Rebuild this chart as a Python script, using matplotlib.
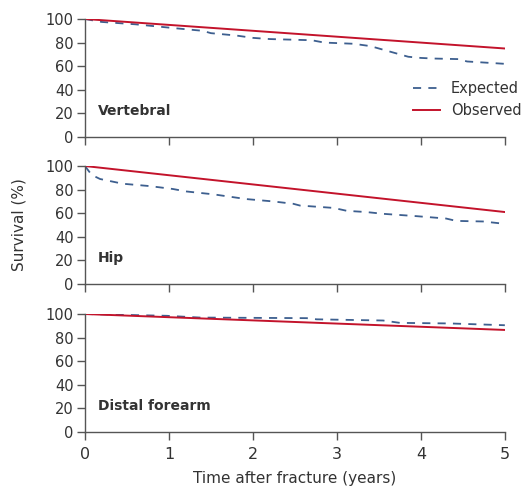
import numpy as np
import matplotlib.pyplot as plt

panels = ["Vertebral", "Hip", "Distal forearm"]

vert_t = [0, 0.2, 0.6, 1.1, 1.4, 1.5, 1.8, 2.0, 2.2, 2.7, 2.85, 3.2, 3.4, 3.55, 3.7, 3.85, 4.0, 4.15, 4.45, 4.55, 5.0]
vert_exp = [100, 97.5, 95.5, 92, 90, 88, 86, 84, 83, 82, 80, 79, 77, 74, 71, 68, 67, 66.5, 66, 64, 62]
vert_obs = [100, 75]

hip_t = [0, 0.08, 0.18, 0.45, 0.77, 1.05, 1.2, 1.53, 1.92, 2.24, 2.48, 2.56, 2.96, 3.12, 3.35, 3.55, 3.95, 4.3, 4.42, 4.74, 5.0]
hip_exp = [100, 92.5, 89, 85, 83, 80.5, 78.5, 76, 72, 70, 68, 66.5, 64.5, 62, 61, 59.5, 57.5, 55.5, 53.5, 53, 51]
hip_obs = [100, 61]

dist_t = [0, 0.97, 1.37, 2.64, 2.76, 3.55, 3.75, 4.35, 5.0]
dist_exp = [100, 98.5, 97, 96.5, 95.5, 94.5, 92.5, 92, 90.5]
dist_obs = [100, 86.5]

obs_t = [0, 5]

exp_series = [(vert_t, vert_exp), (hip_t, hip_exp), (dist_t, dist_exp)]
obs_series = [vert_obs, hip_obs, dist_obs]

red = "#c3132b"
blue = "#3d5f8f"
grey = "#555555"
text_col = "#333333"

fig = plt.figure(figsize=(5.21, 4.87), dpi=100)

left, width, height = 0.163, 0.806, 0.2423
bottoms = [0.7187, 0.4168, 0.1129]

axes = []
for i, name in enumerate(panels):
    ax = fig.add_axes([left, bottoms[i], width, height])
    t, e = exp_series[i]
    ax.plot(t, e, color=blue, lw=1.3, dashes=(4.5, 4), label="Expected")
    ax.plot(obs_t, obs_series[i], color=red, lw=1.4, label="Observed")
    ax.set_xlim(0, 5)
    ax.set_ylim(0, 100)
    ax.set_yticks([0, 20, 40, 60, 80, 100])
    ax.set_xticks([0, 1, 2, 3, 4, 5])
    for s in ["top", "right"]:
        ax.spines[s].set_visible(False)
    for s in ["left", "bottom"]:
        ax.spines[s].set_color(grey)
        ax.spines[s].set_linewidth(1.0)
    ax.tick_params(direction="out", length=6, width=1.0, color=grey,
                   labelsize=10.5, labelcolor=text_col, pad=2)
    ax.tick_params(axis="x", labelsize=11.5, pad=5)
    if i < 2:
        ax.set_xticklabels([])
    ax.text(0.031, 0.22, name, transform=ax.transAxes, fontsize=10,
            fontweight="bold", color=text_col, va="center")
    axes.append(ax)

axes[0].legend(loc="center right", bbox_to_anchor=(1.06, 0.315), frameon=False,
               fontsize=10.5, handlelength=1.9, handletextpad=0.7,
               labelspacing=0.5, labelcolor=text_col, borderaxespad=0.2)

axes[2].set_xlabel("Time after fracture (years)", fontsize=11, color=text_col, labelpad=6)
axes[1].set_ylabel("Survival (%)", fontsize=11, color=text_col, labelpad=14)

fig.savefig("out.png", dpi=100)
